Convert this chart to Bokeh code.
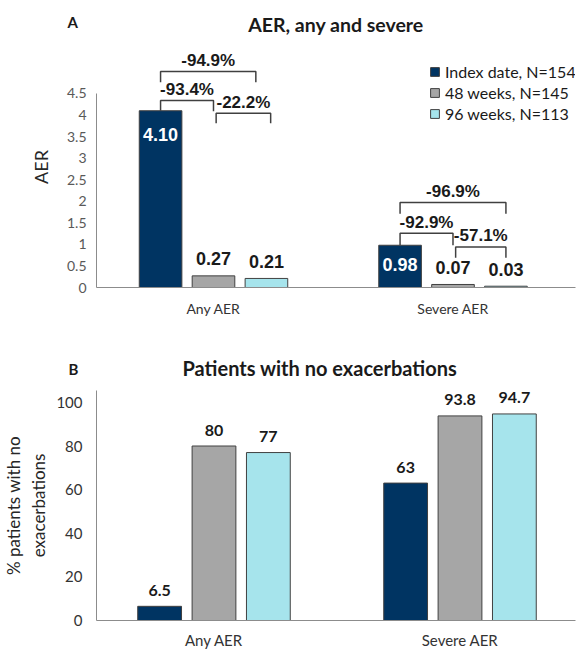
from bokeh.plotting import figure
from bokeh.models import (ColumnDataSource, Legend, LegendItem, FixedTicker,
                          Range1d, CustomJSTickFormatter, Title)
from bokeh.layouts import column
from bokeh.embed import file_html
from bokeh.resources import INLINE
from bokeh.core.properties import value

# ---------------- data ----------------
categories = ["Any AER", "Severe AER"]
series_names = ["Index date, N=154", "48 weeks, N=145", "96 weeks, N=113"]

aer_index = [4.10, 0.98]
aer_48 = [0.27, 0.07]
aer_96 = [0.21, 0.03]
aer_ticks = [0, 0.5, 1, 1.5, 2, 2.5, 3, 3.5, 4, 4.5]

noexac_index = [6.5, 63]
noexac_48 = [80, 93.8]
noexac_96 = [77, 94.7]
noexac_labels_index = ["6.5", "63"]
noexac_labels_48 = ["80", "93.8"]
noexac_labels_96 = ["77", "94.7"]
noexac_ticks = [0, 20, 40, 60, 80, 100]

# percentage-change brackets (top panel)
bracket_labels = ["-94.9%", "-93.4%", "-22.2%", "-96.9%", "-92.9%", "-57.1%"]
bracket_group = [0, 0, 0, 1, 1, 1]
bracket_from = [0, 0, 1.05, 0, 0, 1.05]      # bar slot (0,1,2)
bracket_to = [1.8, 1, 2.08, 2, 1, 2]
bracket_top = [5.01, 4.34, 4.04, 1.97, 1.26, 0.94]
bracket_left_end = [4.76, 4.10, 3.81, 1.71, 0.98, 0.69]
bracket_right_end = [4.76, 4.09, 3.81, 1.71, 0.98, 0.69]

# ---------------- styles ----------------
colors = ["#003462", "#a6a6a6", "#a6e4ec"]
outline = "#404040"
PITCH = 0.221
BW = 0.178
FONT = "Lato"
NUMFONT = "Liberation Sans"

fmt = CustomJSTickFormatter(code="return tick.toString();")


def style_axes(p, tick_size, tick_color, x_standoff, x_size):
    for ax in (p.xaxis, p.yaxis):
        ax.axis_line_color = "#8c8c8c"
        ax.major_tick_line_color = None
        ax.minor_tick_line_color = None
        ax.major_tick_out = 0
        ax.major_tick_in = 0
        ax.minor_tick_out = 0
        ax.major_label_text_font = FONT
        ax.major_label_text_font_size = tick_size
        ax.major_label_text_color = tick_color
    p.xaxis.major_label_standoff = x_standoff
    p.xaxis.major_label_text_color = "#333333"
    p.xaxis.major_label_text_font_size = x_size


# ================= Panel A =================
pA = figure(width=585, height=325, output_backend="svg", toolbar_location=None,
            x_range=Range1d(-0.4885, 1.5115), y_range=Range1d(0, 5.59), title=None,
            min_border_left=85, min_border_right=10, min_border_top=45, min_border_bottom=38)
pA.outline_line_color = None
pA.xgrid.visible = False
pA.ygrid.visible = False

gx = list(range(len(categories)))
series_A = [aer_index, aer_48, aer_96]
rends = []
for s, vals in enumerate(series_A):
    xs = [g + (s - 1) * PITCH for g in gx]
    offs = [24, 19] if s == 0 else [-17] * len(vals)
    src = ColumnDataSource(dict(x=xs, top=vals, lab=["%.2f" % v for v in vals], off=offs))
    r = pA.vbar(x="x", top="top", width=BW, source=src, fill_color=colors[s],
                line_color=outline, line_width=1)
    rends.append(r)
    pA.text(x="x", y="top", text="lab", source=src,
            text_color="white" if s == 0 else "#1a1a1a",
            text_font=value(NUMFONT), text_font_style="bold", text_font_size="18px",
            text_align="center", text_baseline="middle", y_offset="off")

# brackets
b_xs, b_ys, l_x, l_y = [], [], [], []
for i in range(len(bracket_labels)):
    x0 = bracket_group[i] + (bracket_from[i] - 1) * PITCH
    x1 = bracket_group[i] + (bracket_to[i] - 1) * PITCH
    b_xs.append([x0, x0, x1, x1])
    b_ys.append([bracket_left_end[i], bracket_top[i], bracket_top[i], bracket_right_end[i]])
    l_x.append((x0 + x1) / 2)
    l_y.append(bracket_top[i])
pA.multi_line(xs=b_xs, ys=b_ys, line_color="#404040", line_width=1.5)
pA.text(x=l_x, y=l_y, text=bracket_labels, text_color="#1a1a1a",
        text_font=value(NUMFONT), text_font_style="bold", text_font_size="17px",
        text_align="center", text_baseline="middle", y_offset=-11)

style_axes(pA, "14px", "#595959", 12, "14px")
pA.yaxis.ticker = FixedTicker(ticks=aer_ticks)
pA.yaxis.formatter = fmt
pA.yaxis.bounds = (0, 4.5)
pA.yaxis.axis_label = "AER"
pA.yaxis.axis_label_text_font = FONT
pA.yaxis.axis_label_text_font_style = "normal"
pA.yaxis.axis_label_text_font_size = "18px"
pA.yaxis.axis_label_text_color = "#262626"
pA.yaxis.axis_label_standoff = 12
pA.yaxis.major_label_standoff = 10
pA.xaxis.ticker = FixedTicker(ticks=gx)
pA.xaxis.major_label_overrides = {g: c for g, c in zip(gx, categories)}

legend = Legend(items=[LegendItem(label=n, renderers=[r]) for n, r in zip(series_names, rends)],
                location=(333, 164), orientation="vertical", padding=0, margin=0, spacing=1,
                glyph_width=11, glyph_height=11, label_height=20, label_standoff=5,
                label_text_font=FONT, label_text_font_size="16px", label_text_color="#1a1a1a",
                border_line_color=None, background_fill_alpha=0)
pA.add_layout(legend)

pA.add_layout(Title(text="AER, any and severe", align="center", standoff=20.5,
                    text_font=FONT, text_font_style="bold", text_font_size="19.5px",
                    text_color="#1a1a1a"), "above")
pA.add_layout(Title(text="A", align="left", offset=-29, standoff=-60,
                    text_font=FONT, text_font_style="bold", text_font_size="15px",
                    text_color="#1a1a1a"), "above")

# ================= Panel B =================
pB = figure(width=585, height=326, output_backend="svg", toolbar_location=None,
            x_range=Range1d(-0.4776, 1.4695), y_range=Range1d(0, 105.45), title=None,
            min_border_left=83, min_border_right=0, min_border_top=65, min_border_bottom=29)
pB.outline_line_color = None
pB.xgrid.visible = False
pB.ygrid.visible = False

series_B = [noexac_index, noexac_48, noexac_96]
labels_B = [noexac_labels_index, noexac_labels_48, noexac_labels_96]
for s, vals in enumerate(series_B):
    xs = [g + (s - 1) * PITCH for g in gx]
    src = ColumnDataSource(dict(x=xs, top=vals, lab=labels_B[s]))
    pB.vbar(x="x", top="top", width=BW, source=src, fill_color=colors[s],
            line_color=outline, line_width=1)
    pB.text(x="x", y="top", text="lab", source=src, text_color="#1a1a1a",
            text_font=value(FONT), text_font_style="bold", text_font_size="16px",
            text_align="center", text_baseline="middle", y_offset=-16)

style_axes(pB, "15px", "#333333", 10, "15px")
pB.yaxis.ticker = FixedTicker(ticks=noexac_ticks)
pB.yaxis.formatter = fmt
pB.yaxis.axis_label = "% patients with no\nexacerbations"
pB.yaxis.axis_label_text_font = FONT
pB.yaxis.axis_label_text_font_style = "normal"
pB.yaxis.axis_label_text_font_size = "17px"
pB.yaxis.axis_label_text_color = "#262626"
pB.yaxis.axis_label_standoff = 4
pB.yaxis.major_label_standoff = 14
pB.xaxis.ticker = FixedTicker(ticks=gx)
pB.xaxis.major_label_overrides = {g: c for g, c in zip(gx, categories)}

pB.add_layout(Title(text="Patients with no exacerbations", align="left", offset=86, standoff=22,
                    text_font=FONT, text_font_style="bold", text_font_size="20px",
                    text_color="#1a1a1a"), "above")
pB.add_layout(Title(text="B", align="left", offset=-28, standoff=-70,
                    text_font=FONT, text_font_style="bold", text_font_size="15px",
                    text_color="#1a1a1a"), "above")

layout = column(pA, pB)
open("out.html", "w").write(file_html(layout, INLINE))
